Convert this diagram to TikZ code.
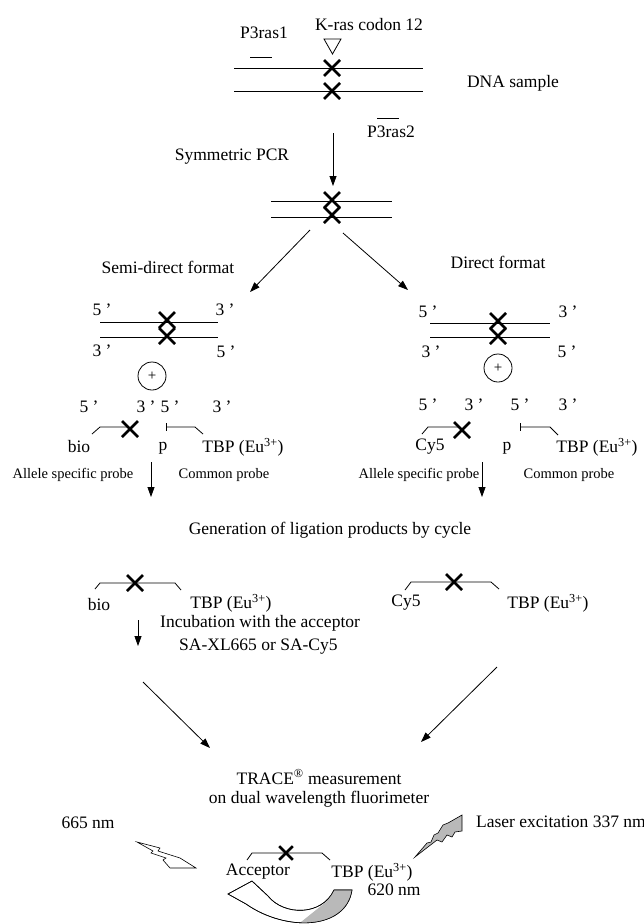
\documentclass[tikz,border=0pt]{standalone}
\usepackage{fontspec}
\setmainfont{Liberation Serif}
\usetikzlibrary{arrows.meta}
\begin{document}
\begin{tikzpicture}[x=1pt,y=-1pt,
  txt/.style={font=\fontsize{17.5}{20}\selectfont, inner sep=0pt},
  small/.style={font=\fontsize{14.5}{16}\selectfont, inner sep=0pt},
  dna/.style={line width=1pt},
  thinl/.style={line width=0.8pt},
  arr/.style={line width=0.8pt,-{Triangle[length=10pt,width=7pt]}},
  mutx/.pic={\draw[line width=2.6pt] (-8,-8) -- (8,8) (-8,8) -- (8,-8);}
]
\useasboundingbox (0,0) rectangle (644,924);

% ---------- top: DNA sample ----------
\node[txt] (p1) at (264,33) {P3ras1};
\draw[thinl] (250,57) -- (272,57);
\node[txt] (kras) at (369,25) {K-ras codon 12};
\draw[thinl] (324,39) -- (341,39) -- (332.5,54) -- cycle;
\draw[dna] (234,68) -- (423,68);
\draw[dna] (234,91) -- (423,91);
\pic at (332,68) {mutx};
\pic at (332,91) {mutx};
\node[txt] (dnas) at (513,83) {DNA sample};
\draw[thinl] (377,118) -- (399,118);
\node[txt] (p2) at (391,132) {P3ras2};

\coordinate (pcrs) at (333,133);
\coordinate (pcre) at (333,186);
\draw[arr] (pcrs) -- (pcre);
\node[txt] (spcr) at (232,157) {Symmetric PCR};

\draw[dna] (271,201) -- (392,201);
\draw[dna] (271,217) -- (392,217);
\pic at (332,200) {mutx};
\pic at (332,215) {mutx};

\coordinate (dls) at (310,230);
\coordinate (dle) at (250,292);
\coordinate (drs) at (343,233);
\coordinate (dre) at (408,290);
\draw[arr] (dls) -- (dle);
\draw[arr] (drs) -- (dre);

% ---------- semi-direct format ----------
\node[txt] (semi) at (168,267) {Semi-direct format};
\node[txt] (l5a) at (102,310) {5 ’};
\node[txt] (l3a) at (225,310) {3 ’};
\draw[dna] (100,322) -- (218,322);
\draw[dna] (100,337) -- (218,337);
\pic at (167,320) {mutx};
\pic at (167,336) {mutx};
\node[txt] (l3b) at (102,351) {3 ’};
\node[txt] (l5b) at (226,352) {5 ’};
\node[draw, circle, thinl, minimum size=28pt, inner sep=0pt, font=\fontsize{15}{16}\selectfont] (lplus) at (152,376) {+};
\node[txt] (l5c) at (89,407) {5 ’};
\node[txt] (l3c) at (146,407) {3 ’};
\node[txt] (l5d) at (170,407) {5 ’};
\node[txt] (l3d) at (222,407) {3 ’};
\draw[thinl] (92,434) -- (100,427) -- (128,427);
\pic at (130,429) {mutx};
\draw[thinl] (166,423) -- (166,431);
\draw[thinl] (166,427) -- (195,427) -- (203,434);
\node[txt] (lbio) at (79,447) {bio};
\node[txt] (lp) at (163,448) {p};
\node[txt] (ltbp) at (243,447) {TBP (Eu\textsuperscript{3+})};
\node[small] (lasp) at (73,475) {Allele specific probe};
\node[small] (lcp) at (224,475) {Common probe};
\coordinate (las) at (151,462);
\coordinate (lae) at (151,497);
\draw[arr] (las) -- (lae);

% ---------- direct format ----------
\node[txt] (dir) at (498,262) {Direct format};
\node[txt] (r5a) at (428,312) {5 ’};
\node[txt] (r3a) at (568,312) {3 ’};
\draw[dna] (430,323) -- (550,323);
\draw[dna] (430,337) -- (550,337);
\pic at (498,321) {mutx};
\pic at (498,336) {mutx};
\node[txt] (r3b) at (431,352) {3 ’};
\node[txt] (r5b) at (567,352) {5 ’};
\node[draw, circle, thinl, minimum size=28pt, inner sep=0pt, font=\fontsize{15}{16}\selectfont] (rplus) at (498,368) {+};
\node[txt] (r5c) at (428,405) {5 ’};
\node[txt] (r3c) at (474,405) {3 ’};
\node[txt] (r5d) at (520,405) {5 ’};
\node[txt] (r3d) at (568,405) {3 ’};
\draw[thinl] (422,434) -- (428,427) -- (458,427);
\pic at (462,430) {mutx};
\draw[thinl] (520,423) -- (520,431);
\draw[thinl] (520,427) -- (550,427) -- (558,435);
\node[txt] (rcy) at (430,447) {Cy5};
\node[txt] (rp) at (507,448) {p};
\node[txt] (rtbp) at (597,447) {TBP (Eu\textsuperscript{3+})};
\node[small] (rasp) at (419,475) {Allele specific probe};
\node[small] (rcp) at (569,475) {Common probe};
\coordinate (ras) at (482,462);
\coordinate (rae) at (482,497);
\draw[arr] (ras) -- (rae);

\node[txt] (gen) at (330,530) {Generation of ligation products by cycle};

% ---------- ligation products ----------
\draw[thinl] (95,589) -- (100,583) -- (175,583) -- (181,590);
\pic at (135,583) {mutx};
\node[txt] (pbio) at (99,605) {bio};
\node[txt] (ptbp1) at (231,603) {TBP (Eu\textsuperscript{3+})};
\draw[thinl] (405,590) -- (411,582) -- (491,582) -- (499,589);
\pic at (454,582) {mutx};
\node[txt] (pcy) at (406,603) {Cy5};
\node[txt] (ptbp2) at (548,603) {TBP (Eu\textsuperscript{3+})};

\coordinate (ias) at (138,620);
\coordinate (iae) at (138,646);
\draw[arr] (ias) -- (iae);
\node[txt, anchor=west] (inc) at (160,623) {Incubation with the acceptor};
\node[txt, anchor=west] (sa) at (179,647) {SA-XL665 or SA-Cy5};

\coordinate (cls) at (143,682);
\coordinate (cle) at (210,748);
\coordinate (crs) at (497,667);
\coordinate (cre) at (421,742);
\draw[arr] (cls) -- (cle);
\draw[arr] (crs) -- (cre);

\node[txt] (trace) at (319,777) {TRACE\textsuperscript{®} measurement};
\node[txt] (dual) at (319,799) {on dual wavelength fluorimeter};
\node[txt] (n665) at (88,823) {665 nm};
\node[txt, anchor=west] (laser) at (476,822) {Laser excitation 337 nm};

% ---------- bolts ----------
\draw[line width=0.6pt, fill=gray!55] (415,857) -- (427,843) -- (431,842) -- (434,835) -- (438,833) -- (443,825) -- (448,823) -- (462,815)
  -- (462,831) -- (455,832) -- (452,837) -- (447,835) -- (442,842) -- (437,840) -- cycle;
\draw[line width=0.6pt, fill=white] (137,842) -- (160,848) -- (158,851) -- (180,858) -- (196,868) -- (170,868)
  -- (163,860) -- (166,858) -- (151,853) -- (153,851) -- cycle;

% ---------- final molecule ----------
\draw[thinl] (247,860) -- (252,853) -- (322,853) -- (330,860);
\pic[scale=0.85] at (286,853) {mutx};
\node[txt] (acc) at (258,872) {Acceptor};
\node[txt] (ftbp) at (372,872) {TBP (Eu\textsuperscript{3+})};
\node[txt] (n620) at (394,890) {620 nm};

% ---------- curved arrow ----------
\def\carrow{(228,894) -- (252,881) -- (268,896) .. controls (284,916) and (322,916) .. (334,890) -- (352,890) .. controls (346,930) and (286,932) .. (246,904) -- cycle}
\draw[line width=0.6pt, fill=white] \carrow;
\begin{scope}
  \clip (296,926) -- (326,902) -- (336,880) -- (360,880) -- (360,930) -- cycle;
  \fill[gray!55] \carrow;
\end{scope}
\draw[line width=0.6pt] \carrow;
\end{tikzpicture}
\end{document}
